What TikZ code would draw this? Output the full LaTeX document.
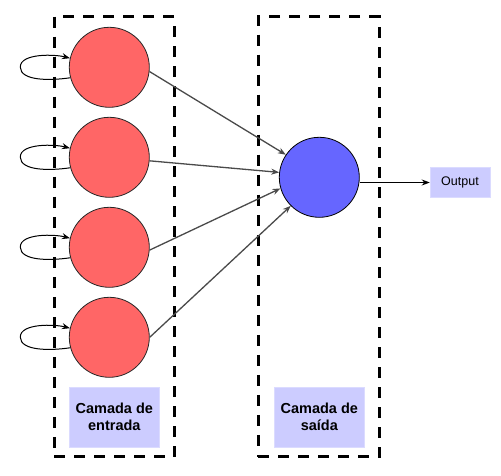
\documentclass[tikz,border=0pt]{standalone}
\usepackage{fontspec}
\setmainfont{Liberation Sans}
\usetikzlibrary{arrows.meta}
\definecolor{redfill}{HTML}{FF6666}
\definecolor{bluefill}{HTML}{6666FF}
\definecolor{labfill}{HTML}{CCCCFF}
\definecolor{edgegray}{HTML}{4A4A4A}
\begin{document}
\begin{tikzpicture}[x=1pt,y=-1pt,
  neuronR/.style={circle, draw=black!85, line width=0.8pt, fill=redfill, minimum size=80pt, inner sep=0pt},
  neuronB/.style={circle, draw=black, line width=0.8pt, fill=bluefill, minimum size=80pt, inner sep=0pt},
  layerbox/.style={draw=black, line width=3pt, dash pattern=on 11pt off 9pt, minimum width=120pt, minimum height=440pt, inner sep=0pt},
  labbox/.style={fill=labfill, draw=labfill!70!white, line width=0.5pt, minimum width=90pt, minimum height=60pt, inner sep=0pt, align=center, font=\fontsize{14.5}{17}\selectfont\bfseries},
  outbox/.style={fill=labfill, draw=labfill!70!white, line width=0.5pt, minimum width=60pt, minimum height=30pt, inner sep=0pt, font=\fontsize{12.5}{14}\selectfont},
  edge/.style={draw=edgegray, line width=1.3pt, -{Stealth[length=8pt,width=6pt]}},
  loopedge/.style={draw=black, line width=1pt, -{Stealth[length=8pt,width=6pt]}},
  outedge/.style={draw=black, line width=1pt, -{Stealth[length=8pt,width=6pt]}}
]
\useasboundingbox (0,0) rectangle (501,476);
% layers
\node[layerbox] (L1) at (114,236.75) {};
\node[layerbox, minimum width=121pt] (L2) at (318.5,236.75) {};
% labels
\node[labbox] (lab1) at (114.3,417.3) {Camada de\\entrada};
\node[labbox] (lab2) at (319.3,417.3) {Camada de\\saída};
% neurons
\node[neuronR] (r1) at (109.3,67.3) {};
\node[neuronR] (r2) at (109.3,157.3) {};
\node[neuronR] (r3) at (109.3,247.3) {};
\node[neuronR] (r4) at (109.3,337.3) {};
\node[neuronB] (b) at (319.3,177.3) {};
\node[outbox] (out) at (460,182.5) {Output};
% self loops
\foreach \n in {r1,r2,r3,r4}{
  \draw[loopedge] (\n.195) .. controls +(-20,3) and +(0,14) .. ++(-50,-10.7)
     .. controls +(0,-14) and +(-15,-4) .. (\n.167);
}
% connections
\draw[edge] (r1.-6) -- (b.146);
\draw[edge] (r2.-5) -- (b.173);
\draw[edge] (r3.-4) -- (b.196);
\draw[edge] (r4.0) -- (b.225);
\draw[outedge] (out.west -| b.east) -- (out.west);
\end{tikzpicture}
\end{document}
